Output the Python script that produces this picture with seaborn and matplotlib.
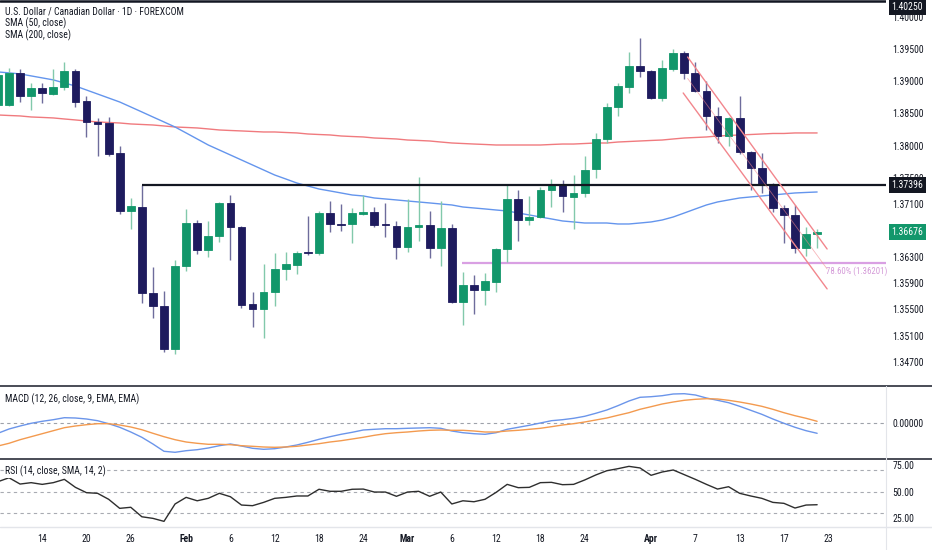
import numpy as np
import matplotlib
matplotlib.use("Agg")
import matplotlib.pyplot as plt
import seaborn as sns
from matplotlib import font_manager
from matplotlib.lines import Line2D
from matplotlib.ticker import FixedLocator, NullLocator, FuncFormatter

# ---------------- data ----------------
bar_index = list(range(-1, 74))

open_ = [1.38630, 1.38630, 1.39128, 1.38769, 1.38893, 1.38800, 1.38909, 1.39159, 1.38692, 1.38359,
         1.38351, 1.37888, 1.36997, 1.37058, 1.35748, 1.35550, 1.34901, 1.36158, 1.36813, 1.36401,
         1.36615, 1.37120, 1.36752, 1.35581, 1.35505, 1.35763, 1.36112, 1.36173, 1.36371, 1.36356,
         1.36966, 1.36798, 1.36798, 1.36951, 1.36982, 1.36798, 1.36768, 1.36447, 1.36752, 1.36783,
         1.36432, 1.36737, 1.35611, 1.35869, 1.35793, 1.35915, 1.36416, 1.37181, 1.36859, 1.36905,
         1.37319, 1.37396, 1.37212, 1.37273, 1.37642, 1.38104, 1.38599, 1.38909, 1.39237, 1.39159,
         1.38738, 1.39190, 1.39438, 1.39128, 1.38847, 1.38460, 1.38150, 1.38429, 1.37903, 1.37657,
         1.37411, 1.37043, 1.36936, 1.36432, 1.36645]
high = [1.39206, 1.39206, 1.39190, 1.38971, 1.38971, 1.39190, 1.39299, 1.39190, 1.38769, 1.38429,
        1.38444, 1.37995, 1.37196, 1.37396, 1.36143, 1.35778, 1.36249, 1.37028, 1.36859, 1.36844,
        1.37135, 1.37242, 1.36768, 1.35763, 1.36188, 1.36356, 1.36371, 1.36386, 1.36920, 1.36997,
        1.37150, 1.37104, 1.37043, 1.37242, 1.37058, 1.37120, 1.36844, 1.37181, 1.37518, 1.36997,
        1.37150, 1.36798, 1.36067, 1.36021, 1.36052, 1.36432, 1.37411, 1.37319, 1.37227, 1.37365,
        1.37488, 1.37472, 1.37549, 1.37842, 1.38197, 1.38661, 1.38971, 1.39453, 1.39672, 1.39173,
        1.39329, 1.39500, 1.39469, 1.39299, 1.39003, 1.38599, 1.38444, 1.38769, 1.37918, 1.37888,
        1.37426, 1.37089, 1.37089, 1.36752, 1.36722]
low = [1.38599, 1.38614, 1.38676, 1.38553, 1.38661, 1.38785, 1.38862, 1.38599, 1.38135, 1.37842,
       1.37842, 1.36951, 1.36722, 1.35596, 1.35369, 1.34855, 1.34825, 1.36082, 1.36340, 1.36295,
       1.36523, 1.36249, 1.35520, 1.35233, 1.35066, 1.35550, 1.35945, 1.36036, 1.36325, 1.36325,
       1.36676, 1.36691, 1.36508, 1.36936, 1.36752, 1.36599, 1.36264, 1.36371, 1.36538, 1.36280,
       1.36158, 1.35596, 1.35263, 1.35429, 1.35565, 1.35763, 1.36219, 1.36538, 1.36783, 1.36890,
       1.37058, 1.36982, 1.36722, 1.37212, 1.37503, 1.38042, 1.38460, 1.38816, 1.39065, 1.38723,
       1.38692, 1.39159, 1.39034, 1.38831, 1.38243, 1.38042, 1.37995, 1.37872, 1.37319, 1.37273,
       1.36982, 1.36508, 1.36356, 1.36310, 1.36432]
close = [1.39097, 1.39128, 1.38769, 1.38893, 1.38816, 1.38909, 1.39159, 1.38676, 1.38367, 1.38336,
         1.37872, 1.36997, 1.37074, 1.35748, 1.35550, 1.34901, 1.36158, 1.36813, 1.36401, 1.36615,
         1.37120, 1.36752, 1.35565, 1.35505, 1.35763, 1.36112, 1.36188, 1.36356, 1.36356, 1.36966,
         1.36798, 1.36790, 1.36966, 1.36982, 1.36783, 1.36790, 1.36447, 1.36752, 1.36783, 1.36432,
         1.36737, 1.35611, 1.35869, 1.35793, 1.35930, 1.36416, 1.37181, 1.36859, 1.36905, 1.37319,
         1.37396, 1.37227, 1.37273, 1.37626, 1.38104, 1.38599, 1.38924, 1.39237, 1.39159, 1.38738,
         1.39206, 1.39438, 1.39128, 1.38847, 1.38460, 1.38150, 1.38429, 1.37903, 1.37657, 1.37411,
         1.37043, 1.36936, 1.36432, 1.36645, 1.36676]

sma50 = [1.39143, 1.39128, 1.39112, 1.39081, 1.39050, 1.39019, 1.38971, 1.38924, 1.38862, 1.38800,
         1.38738, 1.38676, 1.38599, 1.38522, 1.38444, 1.38367, 1.38289, 1.38197, 1.38104, 1.38011,
         1.37934, 1.37857, 1.37780, 1.37703, 1.37626, 1.37549, 1.37488, 1.37426, 1.37380, 1.37334,
         1.37304, 1.37273, 1.37242, 1.37227, 1.37196, 1.37181, 1.37166, 1.37150, 1.37135, 1.37120,
         1.37104, 1.37089, 1.37058, 1.37043, 1.37028, 1.37012, 1.36997, 1.36966, 1.36936, 1.36905,
         1.36875, 1.36844, 1.36829, 1.36813, 1.36813, 1.36813, 1.36798, 1.36798, 1.36813, 1.36829,
         1.36859, 1.36905, 1.36966, 1.37028, 1.37089, 1.37135, 1.37166, 1.37196, 1.37212, 1.37227,
         1.37242, 1.37258, 1.37273, 1.37281, 1.37288]
sma200 = [1.38475, 1.38467, 1.38460, 1.38444, 1.38437, 1.38429, 1.38413, 1.38398, 1.38382, 1.38367,
          1.38359, 1.38351, 1.38336, 1.38328, 1.38320, 1.38305, 1.38289, 1.38282, 1.38274, 1.38259,
          1.38243, 1.38235, 1.38228, 1.38220, 1.38212, 1.38212, 1.38204, 1.38197, 1.38181, 1.38173,
          1.38166, 1.38150, 1.38142, 1.38135, 1.38119, 1.38112, 1.38104, 1.38088, 1.38081, 1.38073,
          1.38057, 1.38042, 1.38034, 1.38026, 1.38019, 1.38011, 1.38011, 1.38011, 1.38011, 1.38011,
          1.38019, 1.38026, 1.38026, 1.38034, 1.38042, 1.38042, 1.38057, 1.38065, 1.38073, 1.38081,
          1.38088, 1.38104, 1.38119, 1.38127, 1.38135, 1.38150, 1.38158, 1.38166, 1.38173, 1.38181,
          1.38189, 1.38189, 1.38197, 1.38197, 1.38197]

macd_line = [-0.00100, -0.00057, -0.00027, 0.00000, 0.00020, 0.00036, 0.00056, 0.00053, 0.00043, 0.00026,
             -0.00004, -0.00040, -0.00087, -0.00140, -0.00207, -0.00280, -0.00290, -0.00274, -0.00264, -0.00247,
             -0.00224, -0.00207, -0.00227, -0.00250, -0.00260, -0.00254, -0.00237, -0.00217, -0.00190, -0.00160,
             -0.00134, -0.00110, -0.00090, -0.00067, -0.00060, -0.00054, -0.00054, -0.00050, -0.00047, -0.00044,
             -0.00050, -0.00077, -0.00094, -0.00104, -0.00110, -0.00094, -0.00060, -0.00040, -0.00020, 0.00003,
             0.00026, 0.00036, 0.00050, 0.00070, 0.00100, 0.00133, 0.00176, 0.00223, 0.00260, 0.00266,
             0.00276, 0.00293, 0.00296, 0.00283, 0.00253, 0.00230, 0.00206, 0.00170, 0.00130, 0.00090,
             0.00043, 0.00000, -0.00040, -0.00074, -0.00100]
signal_line = [-0.00227, -0.00200, -0.00164, -0.00134, -0.00104, -0.00074, -0.00044, -0.00027, -0.00014, -0.00004,
               -0.00004, -0.00017, -0.00037, -0.00064, -0.00100, -0.00134, -0.00164, -0.00187, -0.00200, -0.00210,
               -0.00210, -0.00214, -0.00224, -0.00230, -0.00237, -0.00240, -0.00237, -0.00230, -0.00217, -0.00204,
               -0.00187, -0.00174, -0.00157, -0.00140, -0.00120, -0.00104, -0.00094, -0.00087, -0.00077, -0.00070,
               -0.00067, -0.00070, -0.00070, -0.00077, -0.00087, -0.00087, -0.00077, -0.00070, -0.00060, -0.00050,
               -0.00034, -0.00017, -0.00004, 0.00013, 0.00033, 0.00053, 0.00080, 0.00106, 0.00140, 0.00166,
               0.00193, 0.00213, 0.00230, 0.00240, 0.00246, 0.00243, 0.00230, 0.00213, 0.00193, 0.00170,
               0.00140, 0.00106, 0.00076, 0.00050, 0.00020]

rsi = [59.4, 63.1, 57.2, 58.5, 56.9, 58.5, 61.6, 54.1, 49.1, 48.5,
       42.9, 34.4, 35.4, 26.5, 25.0, 22.2, 38.5, 44.7, 41.5, 43.8,
       48.5, 45.3, 37.5, 36.9, 40.0, 43.8, 44.7, 46.0, 46.0, 52.3,
       50.4, 50.4, 52.3, 52.5, 49.7, 49.7, 45.7, 49.7, 50.4, 45.7,
       49.7, 38.5, 41.5, 40.6, 42.9, 49.4, 56.9, 53.8, 54.1, 58.5,
       58.8, 56.6, 56.9, 61.0, 65.7, 69.7, 71.6, 73.8, 72.3, 65.4,
       68.5, 70.4, 66.0, 61.6, 56.9, 52.5, 54.7, 48.5, 46.0, 43.8,
       40.0, 39.1, 34.7, 37.5, 37.8]

date_tick_pos = [3, 7, 11, 16, 20, 24, 28, 32, 36, 40, 44, 48, 52, 58, 62, 66, 70, 74]
date_tick_labels = ["14", "20", "26", "Feb", "6", "12", "18", "24", "Mar", "6",
                    "12", "18", "24", "Apr", "7", "13", "17", "23"]
month_labels = ["Feb", "Mar", "Apr"]

price_ticks = [1.40000, 1.39500, 1.39000, 1.38500, 1.38000, 1.37500, 1.37100,
               1.36300, 1.35900, 1.35500, 1.35100, 1.34700]
rsi_ticks = [75, 50, 25]
rsi_bands = [70, 50, 30]

top_level = 1.40250
resistance_level = 1.37396
resistance_start = 12
last_close = 1.36676
fib_level = 1.36201
fib_start = 40.9
fib_label = "78.60% (1.36201)"

channel_x = [61.3, 73.9]
channel_upper = [1.39375, 1.36416]
channel_mid = [1.39042, 1.36112]
lower_x = [60.9, 73.9]
channel_lower = [1.38816, 1.35809]

title = "U.S. Dollar / Canadian Dollar · 1D · FOREXCOM"
legend_lines = ["SMA (50, close)", "SMA (200, close)"]
macd_title = "MACD (12, 26, close, 9, EMA, EMA)"
rsi_title = "RSI (14, close, SMA, 14, 2)"

# ---------------- style ----------------
sns.set_style("white")
avail = {f.name for f in font_manager.fontManager.ttflist}
FONT = next((n for n in ["Liberation Sans Narrow", "Roboto Condensed", "Liberation Sans"] if n in avail),
            "DejaVu Sans")
plt.rcParams["font.family"] = [FONT, "DejaVu Sans"]

BULL = "#12976b"
BEAR = "#1e1b5e"
BULL_WICK = "#82c9ab"
BEAR_WICK = "#6e6c9c"
TXT = "#131722"
FS = 7.0

W, H = 932, 550
fig = plt.figure(figsize=(W / 100, H / 100), dpi=100)
fig.patch.set_facecolor("white")

right = 886 / W
ax = fig.add_axes([0, 1 - 386 / H, right, 386 / H])
axm = fig.add_axes([0, 1 - 459 / H, right, 73 / H], sharex=ax)
axr = fig.add_axes([0, 1 - 527 / H, right, 68 / H], sharex=ax)

x = np.array(bar_index, dtype=float)
o = np.array(open_)
h = np.array(high)
l = np.array(low)
c = np.array(close)
up = c >= o

xmin, xmax = -0.813, 79.22

# ---------------- main price panel ----------------
ax.set_yscale("log")
ax.set_ylim(1.34343, 1.40266)
ax.set_xlim(xmin, xmax)

sns.lineplot(x=x, y=sma200, ax=ax, color="#f07a7e", lw=1.0, zorder=2)
sns.lineplot(x=x, y=sma50, ax=ax, color="#6495ed", lw=1.0, zorder=2)

ax.vlines(x, l, h, colors=np.where(up, BULL_WICK, BEAR_WICK), lw=1.0, zorder=3)
body_col = np.where(up, BULL, BEAR)
ax.bar(x, c - o, bottom=o, width=0.7, color=body_col, edgecolor=body_col, linewidth=0.6, zorder=4)

ax.axhline(top_level, color=TXT, lw=1.8, zorder=5)
ax.hlines(resistance_level, resistance_start, xmax, color=TXT, lw=1.6, zorder=5)
ax.hlines(fib_level, fib_start, xmax, color="#d9a0e3", lw=1.6, zorder=2)

ax.plot(channel_x, channel_upper, color="#f2868d", lw=1.0, zorder=5)
ax.plot(lower_x, channel_lower, color="#f2868d", lw=1.0, zorder=5)
ax.plot(channel_x, channel_mid, color="#f2868d", lw=0.6, alpha=0.6, zorder=5)

ax.annotate(fib_label, xy=(73.8, fib_level), xytext=(0, -6), textcoords="offset points",
            ha="left", va="center", fontsize=6.3, color="#d49ad8", zorder=6)

ax.yaxis.tick_right()
ax.yaxis.set_major_locator(FixedLocator(price_ticks))
ax.yaxis.set_minor_locator(NullLocator())
ax.yaxis.set_major_formatter(FuncFormatter(lambda v, p: f"{v:.5f}"))
ax.tick_params(axis="y", length=0, pad=4.5, labelsize=FS, labelcolor=TXT)
ax.tick_params(axis="x", length=0, labelbottom=False)
ax.set_xlabel("")
ax.set_ylabel("")
for s in ax.spines.values():
    s.set_visible(False)

def price_box(axis, value, fc, dy=0):
    axis.annotate(f"{value:.5f}", xy=(1.0, value), xycoords=("axes fraction", "data"),
                  xytext=(4.0, dy), textcoords="offset points", ha="left", va="center",
                  fontsize=FS, color="white", annotation_clip=False, zorder=10,
                  bbox=dict(boxstyle="square,pad=0.3", fc=fc, ec="none"))

price_box(ax, top_level, TXT, dy=-4.2)
price_box(ax, resistance_level, TXT)
price_box(ax, last_close, BULL)

fig.text(5 / W, 1 - 11.5 / H, title, fontsize=FS, color=TXT, va="center", ha="left")
for k, t in enumerate(legend_lines):
    fig.text(5 / W, 1 - (23.3 + 11.7 * k) / H, t, fontsize=FS, color=TXT, va="center", ha="left")

# ---------------- MACD panel ----------------
axm.set_ylim(-0.00357, 0.00373)
axm.axhline(0, color="#9ea2aa", lw=0.8, ls=(0, (3, 3)))
sns.lineplot(x=x, y=macd_line, ax=axm, color="#6b95ea", lw=1.0)
sns.lineplot(x=x, y=signal_line, ax=axm, color="#f39a4f", lw=1.0)
axm.yaxis.tick_right()
axm.set_yticks([0.0])
axm.set_yticklabels(["0.00000"])
axm.tick_params(axis="y", length=0, pad=4.5, labelsize=FS, labelcolor=TXT)
axm.tick_params(axis="x", length=0, labelbottom=False)
axm.set_xlabel("")
axm.set_ylabel("")
for s in axm.spines.values():
    s.set_visible(False)
axm.text(5 / 886, 1 - 13 / 73, macd_title, transform=axm.transAxes, fontsize=FS, color=TXT,
         va="center", ha="left")

# ---------------- RSI panel ----------------
axr.set_ylim(16.9, 80.7)
for b in rsi_bands:
    axr.axhline(b, color="#a8abb2", lw=0.8, ls=(0, (3, 3)))
sns.lineplot(x=x, y=rsi, ax=axr, color="#2e2e2e", lw=1.0)
axr.yaxis.tick_right()
axr.set_yticks(rsi_ticks)
axr.set_yticklabels([f"{v:.2f}" for v in rsi_ticks])
axr.tick_params(axis="y", length=0, pad=4.5, labelsize=FS, labelcolor=TXT)
axr.set_xticks(date_tick_pos)
axr.set_xticklabels(date_tick_labels)
axr.tick_params(axis="x", length=0, pad=5, labelsize=FS, labelcolor=TXT)
for lab in axr.get_xticklabels():
    if lab.get_text() in month_labels:
        lab.set_fontweight("bold")
axr.set_xlim(xmin, xmax)
axr.set_xlabel("")
axr.set_ylabel("")
for s in axr.spines.values():
    s.set_visible(False)
axr.text(5 / 886, 1 - 12.5 / 68, rsi_title, transform=axr.transAxes, fontsize=FS, color=TXT,
         va="center", ha="left", bbox=dict(boxstyle="square,pad=0.1", fc="white", ec="none"))

# ---------------- separators ----------------
for ypx, col, lw in [(386, "#2a2e39", 1.2), (459, "#2a2e39", 1.2), (527, "#e3e5ea", 1.0)]:
    fig.add_artist(Line2D([0, 1], [1 - ypx / H] * 2, transform=fig.transFigure, color=col, lw=lw))
fig.add_artist(Line2D([right, right], [0, 1 - 386 / H], transform=fig.transFigure, color="#e3e5ea", lw=0.8))

fig.savefig("out.png", dpi=100, facecolor="white")
